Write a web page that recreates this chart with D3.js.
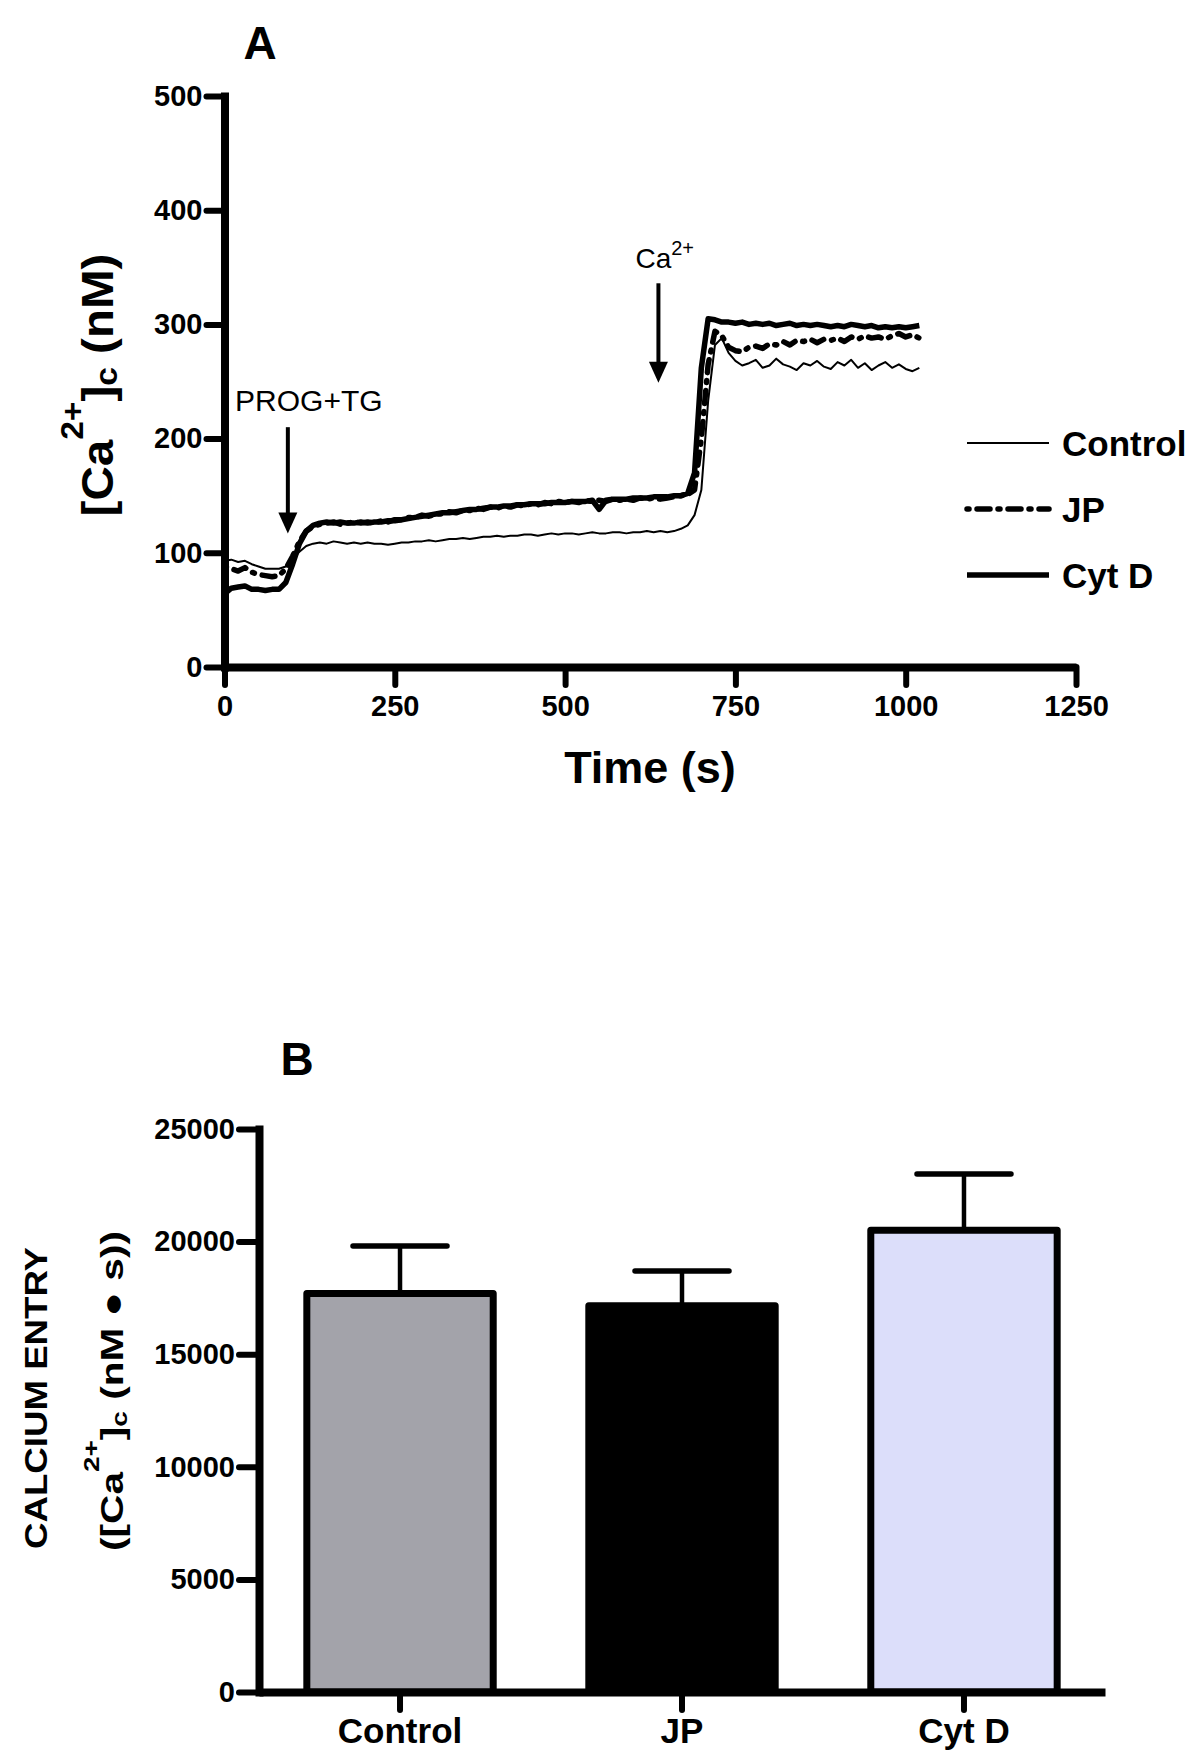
<!DOCTYPE html>
<html>
<head>
<meta charset="utf-8">
<script src="https://cdn.jsdelivr.net/npm/d3@7"></script>
<style>
  html, body { margin: 0; padding: 0; background: #fff; }
  svg { display: block; }
  text { font-family: "Liberation Sans", Arial, Helvetica, sans-serif; fill: #000; }
</style>
</head>
<body>
<svg id="chart" width="1200" height="1757"></svg>
<script>
// ---------------- DATA ----------------
// Panel A: time (s)
const times = [
  0,10,20,30,40,50,60,70,80,90,
  100,110,120,130,140,150,160,170,180,190,
  200,210,220,230,240,250,260,270,280,290,
  300,310,320,330,340,350,360,370,380,390,
  400,410,420,430,440,450,460,470,480,490,
  500,510,520,530,540,550,560,570,580,590,
  600,610,620,630,640,650,660,670,680,690,
  700,710,720,730,740,750,760,770,780,790,
  800,810,820,830,840,850,860,870,880,890,
  900,910,920,930,940,950,960,970,980,990,
  1000,1010,1020
];
// [Ca2+]c (nM) — Control (thin line)
const controlTrace = [
  93,94,92,93,90,88,86,86,86,88,
  94,101,106,108,109,108,110,109,108,109,
  108,109,108,108,107,108,109,109,110,110,
  111,110,111,112,112,113,112,113,114,114,
  115,114,115,115,116,116,115,116,117,116,
  117,117,116,117,118,117,117,118,118,117,
  118,118,119,118,119,118,119,121,124,133,
  155,233,282,288,275,268,264,266,269,262,
  264,270,265,263,260,266,264,268,263,261,
  267,264,269,262,266,260,264,267,262,265,
  261,259,262
];
// JP (dashed line)
const jpTrace = [
  88,86,84,87,83,81,80,79,80,86,
  97,110,119,123,125,126,127,125,126,127,
  126,127,126,128,127,129,129,131,131,133,
  132,134,134,136,135,137,137,139,138,140,
  139,141,140,142,141,143,142,144,143,145,
  144,145,144,146,145,146,145,147,146,147,
  146,148,147,148,147,148,149,150,151,155,
  200,265,294,290,280,277,276,280,281,279,
  283,282,285,282,286,285,287,284,287,286,
  288,285,289,287,290,288,289,287,290,292,
  289,291,288
];
// Cyt D (thick solid line)
const cytDTrace = [
  64,69,70,71,68,68,67,68,68,74,
  90,108,119,124,126,127,126,127,126,126,
  127,126,127,127,128,128,129,130,131,132,
  133,134,135,135,136,137,138,138,139,140,
  140,141,141,142,142,143,143,143,144,144,
  144,145,145,145,146,138,146,147,147,147,
  148,148,148,149,149,149,150,150,152,170,
  262,305,304,302,302,301,302,300,301,300,
  301,299,300,301,299,300,299,300,299,298,
  299,298,300,299,298,299,297,298,297,298,
  297,298,299
];
const seriesNames = ["Control", "JP", "Cyt D"];
const xTicksA = [0, 250, 500, 750, 1000, 1250];
const yTicksA = [0, 100, 200, 300, 400, 500];
// Annotation events (time in s)
const eventNames = ["PROG+TG", "Ca"];
const eventTimes = [93, 637];

// Panel B
const barCategories = ["Control", "JP", "Cyt D"];
const barMeans = [17700, 17150, 20500];
const barErrors = [2100, 1550, 2500];
const yTicksB = [0, 5000, 10000, 15000, 20000, 25000];

// ---------------- DRAW ----------------
const svg = d3.select("#chart");
const FONT_TICK = 29;
const JP_DASH = "2,8,13,8";

function styleAxis(g, domainW, tickW) {
  g.select(".domain").attr("stroke", "#000").attr("stroke-width", domainW).attr("stroke-linecap", "butt");
  g.selectAll(".tick line").attr("stroke", "#000").attr("stroke-width", tickW).attr("stroke-linecap", "round");
  g.selectAll(".tick text").attr("font-size", FONT_TICK).attr("font-weight", "bold")
    .style("font-family", '"Liberation Sans", Arial, sans-serif');
}

// ===== Panel A =====
const xA = d3.scaleLinear().domain([0, 1250]).range([224.5, 1076]);
const yA = d3.scaleLinear().domain([0, 500]).range([667, 96]);

const gA = svg.append("g");

// traces
const lineA = d3.line().x(d => xA(d[0])).y(d => yA(d[1])).curve(d3.curveLinear);
const dataControl = times.map((t, i) => [t, controlTrace[i]]);
const dataJP = times.map((t, i) => [t, jpTrace[i]]);
const dataCyt = times.map((t, i) => [t, cytDTrace[i]]);

gA.append("path").datum(dataControl).attr("d", lineA)
  .attr("fill", "none").attr("stroke", "#000").attr("stroke-width", 2).attr("stroke-linejoin", "round");
gA.append("path").datum(dataCyt).attr("d", lineA)
  .attr("fill", "none").attr("stroke", "#000").attr("stroke-width", 5.5).attr("stroke-linejoin", "round");
gA.append("path").datum(dataJP).attr("d", lineA)
  .attr("fill", "none").attr("stroke", "#000").attr("stroke-width", 5.5)
  .attr("stroke-dasharray", JP_DASH).attr("stroke-linecap", "round").attr("stroke-linejoin", "round");

// axes
const axYA = gA.append("g").attr("transform", `translate(${xA(0)},0)`)
  .call(d3.axisLeft(yA).tickValues(yTicksA).tickSize(18).tickSizeOuter(0).tickPadding(4).tickFormat(d3.format("d")));
styleAxis(axYA, 8, 6);
axYA.select(".domain").attr("stroke-linecap", "square");
const axXA = gA.append("g").attr("transform", `translate(0,${yA(0)})`)
  .call(d3.axisBottom(xA).tickValues(xTicksA).tickSize(18).tickSizeOuter(0).tickPadding(10).tickFormat(d3.format("d")));
styleAxis(axXA, 8, 6);

// arrows / annotations
function arrow(g, x, yTop, yTip) {
  g.append("line").attr("x1", x).attr("x2", x).attr("y1", yTop).attr("y2", yTip - 18)
    .attr("stroke", "#000").attr("stroke-width", 4);
  g.append("path").attr("d", `M${x - 9.5},${yTip - 21} L${x + 9.5},${yTip - 21} L${x},${yTip} Z`).attr("fill", "#000");
}
arrow(gA, xA(eventTimes[0]), yA(210), yA(117));
gA.append("text").attr("x", xA(eventTimes[0]) + 21).attr("y", yA(224))
  .attr("text-anchor", "middle").attr("font-size", 30).text(eventNames[0]);

arrow(gA, xA(eventTimes[1]), yA(336), yA(249));
const caT = gA.append("text").attr("x", xA(eventTimes[1]) - 23).attr("y", yA(349))
  .attr("font-size", 28);
caT.append("tspan").text(eventNames[1]);
caT.append("tspan").attr("dy", -13).attr("font-size", 20).text("2+");

// titles
svg.append("text").attr("x", 260).attr("y", 59).attr("text-anchor", "middle")
  .attr("font-size", 46).attr("font-weight", "bold").text("A");
svg.append("text").attr("x", 650).attr("y", 783).attr("text-anchor", "middle")
  .attr("font-size", 45).attr("font-weight", "bold").text("Time (s)");

function fitRotated(textSel, targetLen) {
  const bb = textSel.node().getBBox();
  const s = targetLen / bb.width;
  textSel.attr("transform", `scale(${s},1)`);
}

const yTitleA = svg.append("g").attr("transform", "translate(113,385) rotate(-90)");
const yTA = yTitleA.append("text").attr("text-anchor", "middle").attr("font-size", 44).attr("font-weight", "bold");
yTA.append("tspan").text("[Ca");
yTA.append("tspan").attr("dy", -30).attr("font-size", 31).text("2+");
yTA.append("tspan").attr("dy", 30).text("]");
yTA.append("tspan").attr("dy", 4).attr("font-size", 31).text("c");
yTA.append("tspan").attr("dy", -4).text(" (nM)");
fitRotated(yTA, 263);

// legend
const legendY = [443, 509, 575];
const legendStyles = [
  { w: 2, dash: null },
  { w: 5.5, dash: JP_DASH },
  { w: 5.5, dash: null }
];
const lg = svg.append("g");
seriesNames.forEach((name, i) => {
  const ln = lg.append("line").attr("x1", 967).attr("x2", 1049).attr("y1", legendY[i]).attr("y2", legendY[i])
    .attr("stroke", "#000").attr("stroke-width", legendStyles[i].w);
  if (legendStyles[i].dash) ln.attr("stroke-dasharray", legendStyles[i].dash).attr("stroke-linecap", "round");
  lg.append("text").attr("x", 1062).attr("y", legendY[i] + 13).attr("font-size", 35).attr("font-weight", "bold").text(name);
});

// ===== Panel B =====
const xB = d3.scaleBand().domain(barCategories).range([259, 1105]).paddingInner(0.339).paddingOuter(0.1696);
const yB = d3.scaleLinear().domain([0, 25000]).range([1692, 1129]);
const barFills = ["#a3a3aa", "#000000", "#dcdefa"];

const gB = svg.append("g");
// error bars
const capW = 98;
barCategories.forEach((c, i) => {
  const cx = xB(c) + xB.bandwidth() / 2;
  gB.append("line").attr("x1", cx).attr("x2", cx).attr("y1", yB(barMeans[i])).attr("y2", yB(barMeans[i] + barErrors[i]))
    .attr("stroke", "#000").attr("stroke-width", 4.5);
  gB.append("line").attr("x1", cx - capW / 2 + 2).attr("x2", cx + capW / 2 - 2)
    .attr("y1", yB(barMeans[i] + barErrors[i])).attr("y2", yB(barMeans[i] + barErrors[i]))
    .attr("stroke", "#000").attr("stroke-width", 5.5).attr("stroke-linecap", "round");
});
// bars
gB.selectAll("rect.bar").data(barCategories).join("rect").attr("class", "bar")
  .attr("x", d => xB(d)).attr("width", xB.bandwidth())
  .attr("y", (d, i) => yB(barMeans[i])).attr("height", (d, i) => yB(0) - yB(barMeans[i]))
  .attr("fill", (d, i) => barFills[i]).attr("stroke", "#000").attr("stroke-width", 7)
  .attr("stroke-linejoin", "round");

const axYB = gB.append("g").attr("transform", `translate(259,0)`)
  .call(d3.axisLeft(yB).tickValues(yTicksB).tickSize(20).tickSizeOuter(0).tickPadding(4).tickFormat(d3.format("d")));
styleAxis(axYB, 8, 6);
axYB.select(".domain").attr("stroke-linecap", "square");
const axXB = gB.append("g").attr("transform", `translate(0,${yB(0)})`)
  .call(d3.axisBottom(xB).tickSize(18).tickSizeOuter(0).tickPadding(8));
styleAxis(axXB, 8, 6);
axXB.selectAll(".tick text").attr("font-size", 35);

svg.append("text").attr("x", 297).attr("y", 1075).attr("text-anchor", "middle")
  .attr("font-size", 46).attr("font-weight", "bold").text("B");

const yTitleB1 = svg.append("g").attr("transform", "translate(47,1398) rotate(-90)");
const yTB1 = yTitleB1.append("text").attr("text-anchor", "middle").attr("font-size", 32).attr("font-weight", "bold")
  .text("CALCIUM ENTRY");
fitRotated(yTB1, 302);

const yTitleB2 = svg.append("g").attr("transform", "translate(123,1391) rotate(-90)");
const yTB2 = yTitleB2.append("text").attr("text-anchor", "middle").attr("font-size", 32).attr("font-weight", "bold");
yTB2.append("tspan").text("([Ca");
yTB2.append("tspan").attr("dy", -24).attr("font-size", 22).text("2+");
yTB2.append("tspan").attr("dy", 24).text("]");
yTB2.append("tspan").attr("dy", 4).attr("font-size", 22).text("c");
yTB2.append("tspan").attr("dy", -4).text(" (nM \u25CF s))");
fitRotated(yTB2, 320);
</script>
</body>
</html>
